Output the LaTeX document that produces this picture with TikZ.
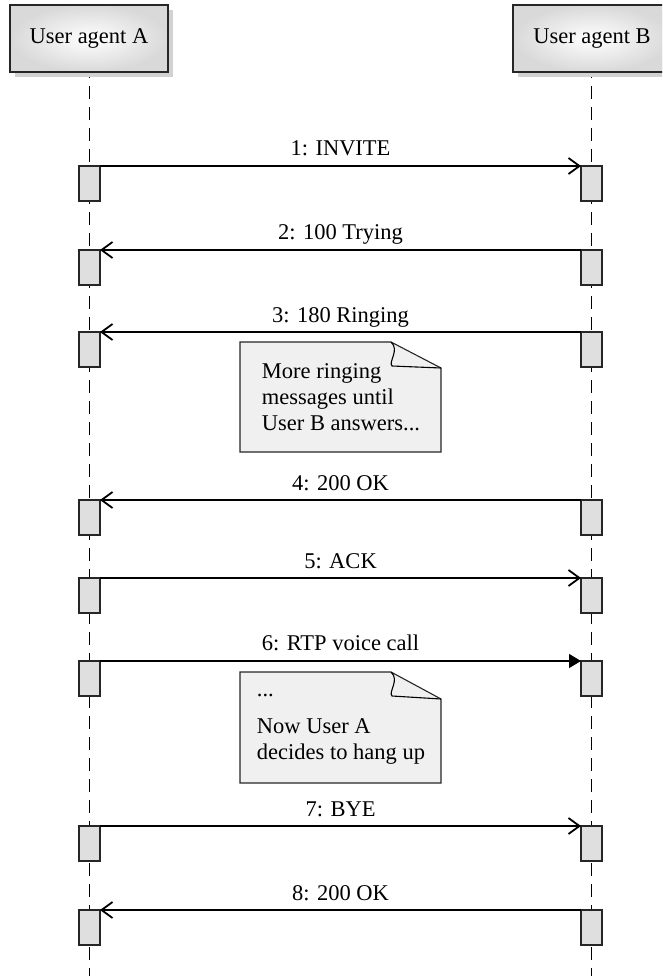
\documentclass[tikz,border=0pt]{standalone}
\usepackage{fontspec}
\setmainfont{Liberation Serif}
\usepackage{tikz}
\usetikzlibrary{positioning,arrows.meta,shadows}

\begin{document}
\begin{tikzpicture}[x=1pt, y=-1pt, font=\fontsize{22.5}{26}\selectfont,
  actor/.style={draw=black!85, line width=1.2pt, inner color=white, outer color=gray!30,
    minimum width=158pt, minimum height=67pt, outer sep=0pt,
    general shadow={fill=gray!35, shadow xshift=5pt, shadow yshift=-5pt}},
  life/.style={line width=1pt, dash pattern=on 13pt off 8pt, dash phase=7pt},
  act/.style={draw=black!85, line width=1.2pt, fill=gray!25, anchor=north,
    minimum width=21pt, minimum height=35pt, inner sep=0pt, outer sep=0pt},
  msg/.style={line width=1.2pt, -{Straight Barb[length=11pt, width=16pt, line width=1.8pt]}},
  ret/.style={line width=1.2pt, {Straight Barb[length=11pt, width=16pt, line width=1.8pt]}-},
  sync/.style={line width=1.2pt, -{Triangle[length=12pt, width=14pt]}},
  lbl/.style={anchor=base, yshift=10pt, inner sep=0pt},
  note/.style={draw=black!85, line width=1.1pt, fill=gray!12},
  notetxt/.style={align=left, inner sep=0pt}]
\useasboundingbox (0,0) rectangle (662,976);
\clip (0,0) rectangle (662,976);

\draw[life] (89.5,72) -- (89.5,976);
\draw[life] (591.5,72) -- (591.5,976);
\node[actor] (ua) at (89,38.5) {User agent A};
\node[actor] (ub) at (592,38.5) {User agent B};

\node[act] (a1) at (89.5,166) {};
\node[act] (b1) at (591.5,166) {};
\node[act] (a2) at (89.5,250) {};
\node[act] (b2) at (591.5,250) {};
\node[act] (a3) at (89.5,332) {};
\node[act] (b3) at (591.5,332) {};
\node[act] (a4) at (89.5,500) {};
\node[act] (b4) at (591.5,500) {};
\node[act] (a5) at (89.5,578) {};
\node[act] (b5) at (591.5,578) {};
\node[act] (a6) at (89.5,661) {};
\node[act] (b6) at (591.5,661) {};
\node[act] (a7) at (89.5,826) {};
\node[act] (b7) at (591.5,826) {};
\node[act] (a8) at (89.5,910) {};
\node[act] (b8) at (591.5,910) {};

\draw[msg] (a1.north east) -- node[lbl] {1: INVITE} (b1.north west);
\draw[ret] (a2.north east) -- node[lbl] {2: 100 Trying} (b2.north west);
\draw[ret] (a3.north east) -- node[lbl] {3: 180 Ringing} (b3.north west);
\draw[ret] (a4.north east) -- node[lbl] {4: 200 OK} (b4.north west);
\draw[msg] (a5.north east) -- node[lbl] {5: ACK} (b5.north west);
\draw[sync] (a6.north east) -- node[lbl, yshift=1pt] {6: RTP voice call} (b6.north west);
\draw[msg] (a7.north east) -- node[lbl] {7: BYE} (b7.north west);
\draw[ret] (a8.north east) -- node[lbl] {8: 200 OK} (b8.north west);

\draw[note] (240,342) -- (391,342) -- (441,368) -- (441,452) -- (240,452) -- cycle;
\draw[line width=1.1pt] (391,342) .. controls (400,350) and (388,362) .. (392,366) -- (441,368);
\node[notetxt] (n1) at (341,397) {More ringing\\messages until\\User B answers...};

\draw[note] (240,672) -- (391,672) -- (441,699) -- (441,783) -- (240,783) -- cycle;
\draw[line width=1.1pt] (391,672) .. controls (400,680) and (388,692) .. (392,696) -- (441,699);
\node[notetxt] (n2) at (341,729) {...\\[11pt]Now User A\\decides to hang up};
\end{tikzpicture}
\end{document}
